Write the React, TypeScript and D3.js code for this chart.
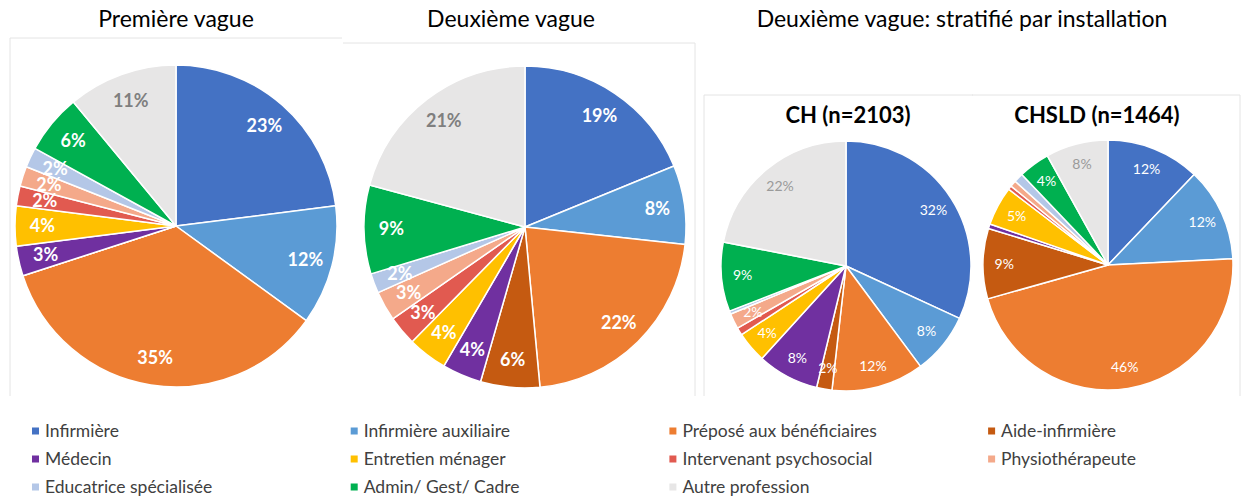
import { useEffect, useRef } from 'react';
import * as d3 from 'd3';

const categories = [
    'Infirmière',
    'Infirmière auxiliaire',
    'Préposé aux bénéficiaires',
    'Aide-infirmière',
    'Médecin',
    'Entretien ménager',
    'Intervenant psychosocial',
    'Physiothérapeute',
    'Educatrice spécialisée',
    'Admin/ Gest/ Cadre',
    'Autre profession',
];

const colors = ['#4472C4', '#5B9BD5', '#ED7D31', '#C55A11', '#7030A0', '#FFC000', '#E15A50', '#F4A98A', '#B4C7E7', '#00B050', '#E7E6E6'];

// percentages, same order as categories
const vague1 = [23, 12, 35, 0, 3, 4, 2, 2, 2, 6, 11];
const vague2 = [19, 8, 22, 6, 4, 4, 3, 3, 2, 9, 21];
const vague2CH = [32, 8, 12, 2, 8, 4, 1, 2, 0.4, 9, 22];
const vague2CHSLD = [12, 12, 46, 9, 0.6, 5, 0.5, 0.8, 1.2, 4, 8];

const titles = ['Première vague', 'Deuxième vague', 'Deuxième vague: stratifié par installation'];
const subTitles = ['CH (n=2103)', 'CHSLD (n=1464)'];

const FONT = 'Lato, "Open Sans", sans-serif';

export default function App() {
    const svgRef = useRef<SVGSVGElement>(null);
    const width = 1241;
    const height = 500;

    useEffect(() => {
        if (!svgRef.current) return;
        const svg = d3.select(svgRef.current);
        svg.selectAll('*').remove();

        svg.append('rect').attr('width', width).attr('height', height).attr('fill', '#fff');

        // faint chart frames
        const frames = [
            [[10, 396], [10, 38], [342, 38]],
            [[343, 43], [695, 43], [695, 396]],
            [[704, 396], [704, 95], [973, 95]],
            [[972, 95], [1240, 95], [1240, 396]],
        ];
        frames.forEach(pts => {
            svg.append('path')
                .attr('d', d3.line()(pts as [number, number][]))
                .attr('fill', 'none')
                .attr('stroke', '#e4e4e4')
                .attr('stroke-width', 1);
        });

        // titles
        const titlePos = [[176, 27], [511, 27], [962, 27]];
        titles.forEach((t, i) => {
            svg.append('text')
                .attr('x', titlePos[i][0])
                .attr('y', titlePos[i][1])
                .attr('text-anchor', 'middle')
                .style('font-family', FONT)
                .style('font-size', '23px')
                .style('fill', '#000')
                .text(t);
        });

        const subPos = [[848, 123], [1097, 123]];
        subTitles.forEach((t, i) => {
            svg.append('text')
                .attr('x', subPos[i][0])
                .attr('y', subPos[i][1])
                .attr('text-anchor', 'middle')
                .style('font-family', FONT)
                .style('font-weight', 'bold')
                .style('font-size', '22px')
                .style('fill', '#000')
                .text(t);
        });

        const pies = [
            { values: vague1, cx: 176, cy: 226, r: 161, bold: true, fs: 18, grey: '#7f7f7f' },
            { values: vague2, cx: 525, cy: 227, r: 161, bold: true, fs: 18, grey: '#7f7f7f' },
            { values: vague2CH, cx: 846, cy: 266, r: 125, bold: false, fs: 14, grey: '#9a9a9a' },
            { values: vague2CHSLD, cx: 1108, cy: 265, r: 125, bold: false, fs: 14, grey: '#9a9a9a' },
        ];

        const pie = d3.pie<number>().sort(null).value(d => d);

        pies.forEach(p => {
            const g = svg.append('g').attr('transform', `translate(${p.cx},${p.cy})`);
            const arc = d3.arc<d3.PieArcDatum<number>>().innerRadius(0).outerRadius(p.r);
            const labelArc = d3.arc<d3.PieArcDatum<number>>().innerRadius(p.r * 0.83).outerRadius(p.r * 0.83);
            const arcs = pie(p.values);

            g.selectAll('path')
                .data(arcs)
                .enter().append('path')
                .attr('d', arc)
                .attr('fill', (d, i) => colors[i])
                .attr('stroke', '#fff')
                .attr('stroke-width', 1.5)
                .attr('stroke-linejoin', 'round');

            g.selectAll('text')
                .data(arcs.filter(d => d.data >= 1.5))
                .enter().append('text')
                .attr('transform', d => `translate(${labelArc.centroid(d)})`)
                .attr('text-anchor', 'middle')
                .attr('dy', '0.35em')
                .style('font-family', FONT)
                .style('font-weight', p.bold ? 'bold' : 'normal')
                .style('font-size', `${p.fs}px`)
                .style('fill', d => (d.index === 10 ? p.grey : '#fff'))
                .text(d => `${Math.round(d.data)}%`);
        });

        // legend, 4 columns
        const legend = svg.append('g').attr('class', 'legend');
        categories.forEach((c, i) => {
            const col = i % 4;
            const row = Math.floor(i / 4);
            const x = 45 + col * 318.7;
            const y = 431 + row * 28;
            legend.append('rect')
                .attr('x', x - 13)
                .attr('y', y - 3.5)
                .attr('width', 7)
                .attr('height', 7)
                .attr('fill', colors[i]);
            legend.append('text')
                .attr('x', x)
                .attr('y', y)
                .attr('dy', '0.35em')
                .style('font-family', FONT)
                .style('font-size', '17.5px')
                .style('fill', '#404040')
                .text(c);
        });
    }, []);

    return (
        <div style={{ position: 'absolute', left: 0, top: 0 }}>
            <svg ref={svgRef} width={width} height={height} style={{ display: 'block' }} />
        </div>
    );
}
